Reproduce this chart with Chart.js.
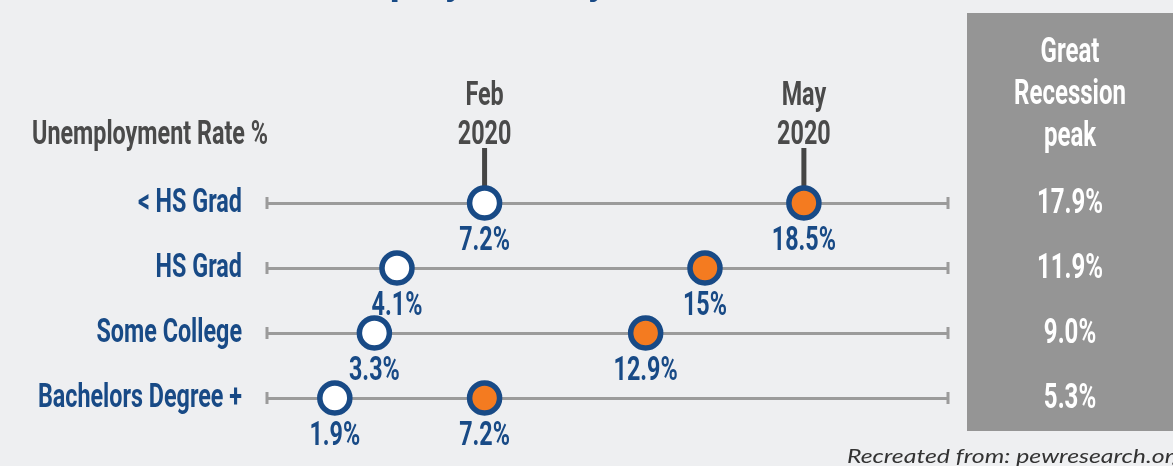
<!DOCTYPE html>
<html>
<head>
<meta charset="utf-8">
<script src="https://cdn.jsdelivr.net/npm/chart.js@4.4.1/dist/chart.umd.min.js"></script>
<style>
  html, body { margin: 0; padding: 0; background: #eeeff1; }
  #wrap { width: 1173px; height: 466px; position: relative; overflow: hidden; }
</style>
</head>
<body>
<div id="wrap"><canvas id="chart"></canvas></div>
<script>
var categories = ['< HS Grad', 'HS Grad', 'Some College', 'Bachelors Degree +'];
var feb2020 = [7.2, 4.1, 3.3, 1.9];
var may2020 = [18.5, 15, 12.9, 7.2];
var recessionPeak = [17.9, 11.9, 9.0, 5.3];
var periodLabels = [['Feb', '2020'], ['May', '2020']];
var recessionHeader = ['Great', 'Recession', 'peak'];
var axisTitle = 'Unemployment Rate %';
var chartTitle = 'Unemployment by Education';
var sourceNote = 'Recreated from: pewresearch.org';

var blue = '#184a86';
var orange = '#f47b20';
var lineGray = '#9b9b9b';
var textGray = '#4a4a4a';
var boxGray = '#959595';

var condFont = '"Liberation Sans Narrow", "Roboto", sans-serif';
var squeeze = 1;

var drawText = function (ctx, text, x, y, size, color, align) {
    ctx.font = 'bold ' + size + 'px ' + condFont;
    ctx.fillStyle = color;
    ctx.textAlign = align;
    ctx.textBaseline = 'alphabetic';
    ctx.fillText(text, x, y, ctx.measureText(text).width * squeeze);
}

var pointData = function (values) {
    return categories.map(function (c, i) { return {x: values[i], y: c}; });
}

var decorPlugin = {
    id: 'decor',
    beforeDraw: function (chart) {
        let ctx = chart.ctx;
        ctx.save();
        ctx.font = 'bold 34px ' + condFont;
        squeeze = 236 / ctx.measureText(axisTitle).width;

        // recession box
        ctx.fillStyle = boxGray;
        ctx.fillRect(967, 13, 220, 418);

        // title, clipped by the top edge
        ctx.font = 'bold 40px ' + condFont;
        let wP = ctx.measureText('Unem').width + ctx.measureText('p').width / 2;
        let wY = ctx.measureText('Unemployment b').width + ctx.measureText('y').width / 2;
        let s = (598 - 401) / (wY - wP);
        ctx.translate(401 - wP * s, -6);
        ctx.scale(s, 1);
        ctx.fillStyle = blue;
        ctx.textAlign = 'left';
        ctx.fillText(chartTitle, 0, 0);
        ctx.restore();
    },
    beforeDatasetsDraw: function (chart) {
        let ctx = chart.ctx;
        let area = chart.chartArea;
        let xs = chart.scales.x;
        let ys = chart.scales.y;
        ctx.save();
        ctx.strokeStyle = lineGray;
        ctx.lineWidth = 3;
        for (let i = 0; i < categories.length; i++) {
            let y = ys.getPixelForValue(i);
            ctx.beginPath();
            ctx.moveTo(area.left, y - 6);
            ctx.lineTo(area.left, y + 6);
            ctx.moveTo(area.right, y - 6);
            ctx.lineTo(area.right, y + 6);
            ctx.stroke();
        }
        // connectors from period labels to first row
        ctx.strokeStyle = '#454545';
        ctx.lineWidth = 5;
        let y0 = ys.getPixelForValue(0);
        [feb2020[0], may2020[0]].forEach(function (v) {
            let x = xs.getPixelForValue(v);
            ctx.beginPath();
            ctx.moveTo(x, 148);
            ctx.lineTo(x, y0 - 15);
            ctx.stroke();
        });
        ctx.restore();
    },
    afterDraw: function (chart) {
        let ctx = chart.ctx;
        let xs = chart.scales.x;
        let ys = chart.scales.y;
        ctx.save();
        drawText(ctx, axisTitle, 32, 144, 34, textGray, 'left');

        [feb2020[0], may2020[0]].forEach(function (v, k) {
            let x = xs.getPixelForValue(v);
            drawText(ctx, periodLabels[k][0], x, 105, 34, textGray, 'center');
            drawText(ctx, periodLabels[k][1], x, 144, 34, textGray, 'center');
        });

        for (let i = 0; i < categories.length; i++) {
            let y = ys.getPixelForValue(i);
            drawText(ctx, categories[i], 242, y + 9, 34, blue, 'right');
            drawText(ctx, feb2020[i] + '%', xs.getPixelForValue(feb2020[i]), y + 47, 34, blue, 'center');
            drawText(ctx, may2020[i] + '%', xs.getPixelForValue(may2020[i]), y + 47, 34, blue, 'center');
            drawText(ctx, recessionPeak[i].toFixed(1) + '%', 1070, y + 10, 35, '#ffffff', 'center');
        }

        drawText(ctx, recessionHeader[0], 1070, 62, 35, '#ffffff', 'center');
        drawText(ctx, recessionHeader[1], 1070, 104, 35, '#ffffff', 'center');
        drawText(ctx, recessionHeader[2], 1070, 146, 35, '#ffffff', 'center');

        // source note, stretched to the reference width
        ctx.font = 'italic 20px "Lato", "Open Sans", sans-serif';
        ctx.fillStyle = '#333333';
        ctx.textAlign = 'left';
        let noteScale = 338 / ctx.measureText(sourceNote).width;
        ctx.translate(847, 463);
        ctx.scale(noteScale, 1);
        ctx.fillText(sourceNote, 0, 0);
        ctx.restore();
    }
};

new Chart('chart', {
    type: 'scatter',
    data: {
        labels: categories,
        datasets: [
            {
                label: 'Feb 2020',
                data: pointData(feb2020),
                pointRadius: 15,
                pointHoverRadius: 15,
                borderWidth: 5.5,
                borderColor: blue,
                backgroundColor: '#ffffff',
                clip: false
            },
            {
                label: 'May 2020',
                data: pointData(may2020),
                pointRadius: 15,
                pointHoverRadius: 15,
                borderWidth: 5.5,
                borderColor: blue,
                backgroundColor: orange,
                clip: false
            }
        ]
    },
    options: {
        responsive: true,
        maintainAspectRatio: false,
        animation: false,
        events: [],
        layout: {
            padding: {left: 267, right: 225, top: 203, bottom: 68}
        },
        plugins: {
            legend: {display: false},
            tooltip: {enabled: false}
        },
        scales: {
            x: {
                type: 'linear',
                min: -0.5,
                max: 23.6,
                display: false
            },
            y: {
                type: 'category',
                labels: categories,
                offset: false,
                ticks: {display: false},
                border: {display: false},
                grid: {
                    color: lineGray,
                    lineWidth: 3,
                    drawTicks: false
                }
            }
        }
    },
    plugins: [decorPlugin]
});
</script>
</body>
</html>
